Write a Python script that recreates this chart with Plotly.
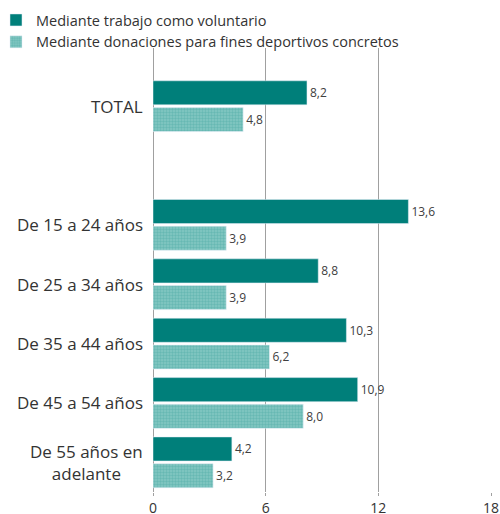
import plotly.graph_objects as go

categories = ["TOTAL", " ", "De 15 a 24 años", "De 25 a 34 años", "De 35 a 44 años",
              "De 45 a 54 años", "De 55 años en<br>adelante"]
voluntario = [8.2, None, 13.6, 8.8, 10.3, 10.9, 4.2]
donaciones = [4.8, None, 3.9, 3.9, 6.2, 8.0, 3.2]
series_names = ["Mediante trabajo como voluntario",
                "Mediante donaciones para fines deportivos concretos"]
x_ticks = [0, 6, 12, 18]

FONT = "Open Sans"
fig = go.Figure()
fig.add_trace(go.Bar(
    y=categories, x=voluntario, orientation="h", name=series_names[0],
    marker=dict(color="#007f7a"),
    texttemplate="%{x:.1f}", textposition="outside",
    textfont=dict(size=12, color="#404040", family=FONT), cliponaxis=False,
))
fig.add_trace(go.Bar(
    y=categories, x=donaciones, orientation="h", name=series_names[1],
    marker=dict(color="#84c7c2",
                pattern=dict(shape=".", fgcolor="#4aa9a3", bgcolor="#84c7c2",
                             size=3, solidity=0.5)),
    texttemplate="%{x:.1f}", textposition="outside",
    textfont=dict(size=12, color="#404040", family=FONT), cliponaxis=False,
))

for c in categories:
    if c.strip():
        fig.add_annotation(x=0, y=c, xref="x", yref="y", text=c, showarrow=False,
                           xanchor="right", align="center", xshift=-8,
                           font=dict(size=17, color="#333333", family=FONT))

fig.update_layout(
    width=500, height=514,
    margin=dict(l=153, r=9, t=48, b=22, autoexpand=False),
    paper_bgcolor="white", plot_bgcolor="white",
    separators=",.",
    barmode="group", bargap=0.1, bargroupgap=0.1,
    font=dict(family=FONT, color="#333333"),
    legend=dict(x=-0.4645, y=1.099, xref="paper", yref="paper",
                xanchor="left", yanchor="top",
                orientation="v", traceorder="normal",
                font=dict(size=14.5, color="#333333", family=FONT),
                itemwidth=30, tracegroupgap=0, bgcolor="rgba(0,0,0,0)"),
    xaxis=dict(range=[0, 18], tickvals=x_ticks, showgrid=True, gridcolor="#a0a0a0",
               gridwidth=1, zeroline=True, zerolinecolor="#a0a0a0", zerolinewidth=1,
               ticks="outside", ticklen=3, tickcolor="#a0a0a0",
               ticklabeloverflow="allow",
               tickfont=dict(size=14, color="#333333", family=FONT), showline=False),
    yaxis=dict(categoryorder="array", categoryarray=categories, range=[6.5, -0.98],
               showticklabels=False, showgrid=False, zeroline=False, showline=False),
)
fig.write_html("out.html", config={"displayModeBar": False},
               post_script="document.body.style.margin='0';document.body.style.overflow='hidden';")
